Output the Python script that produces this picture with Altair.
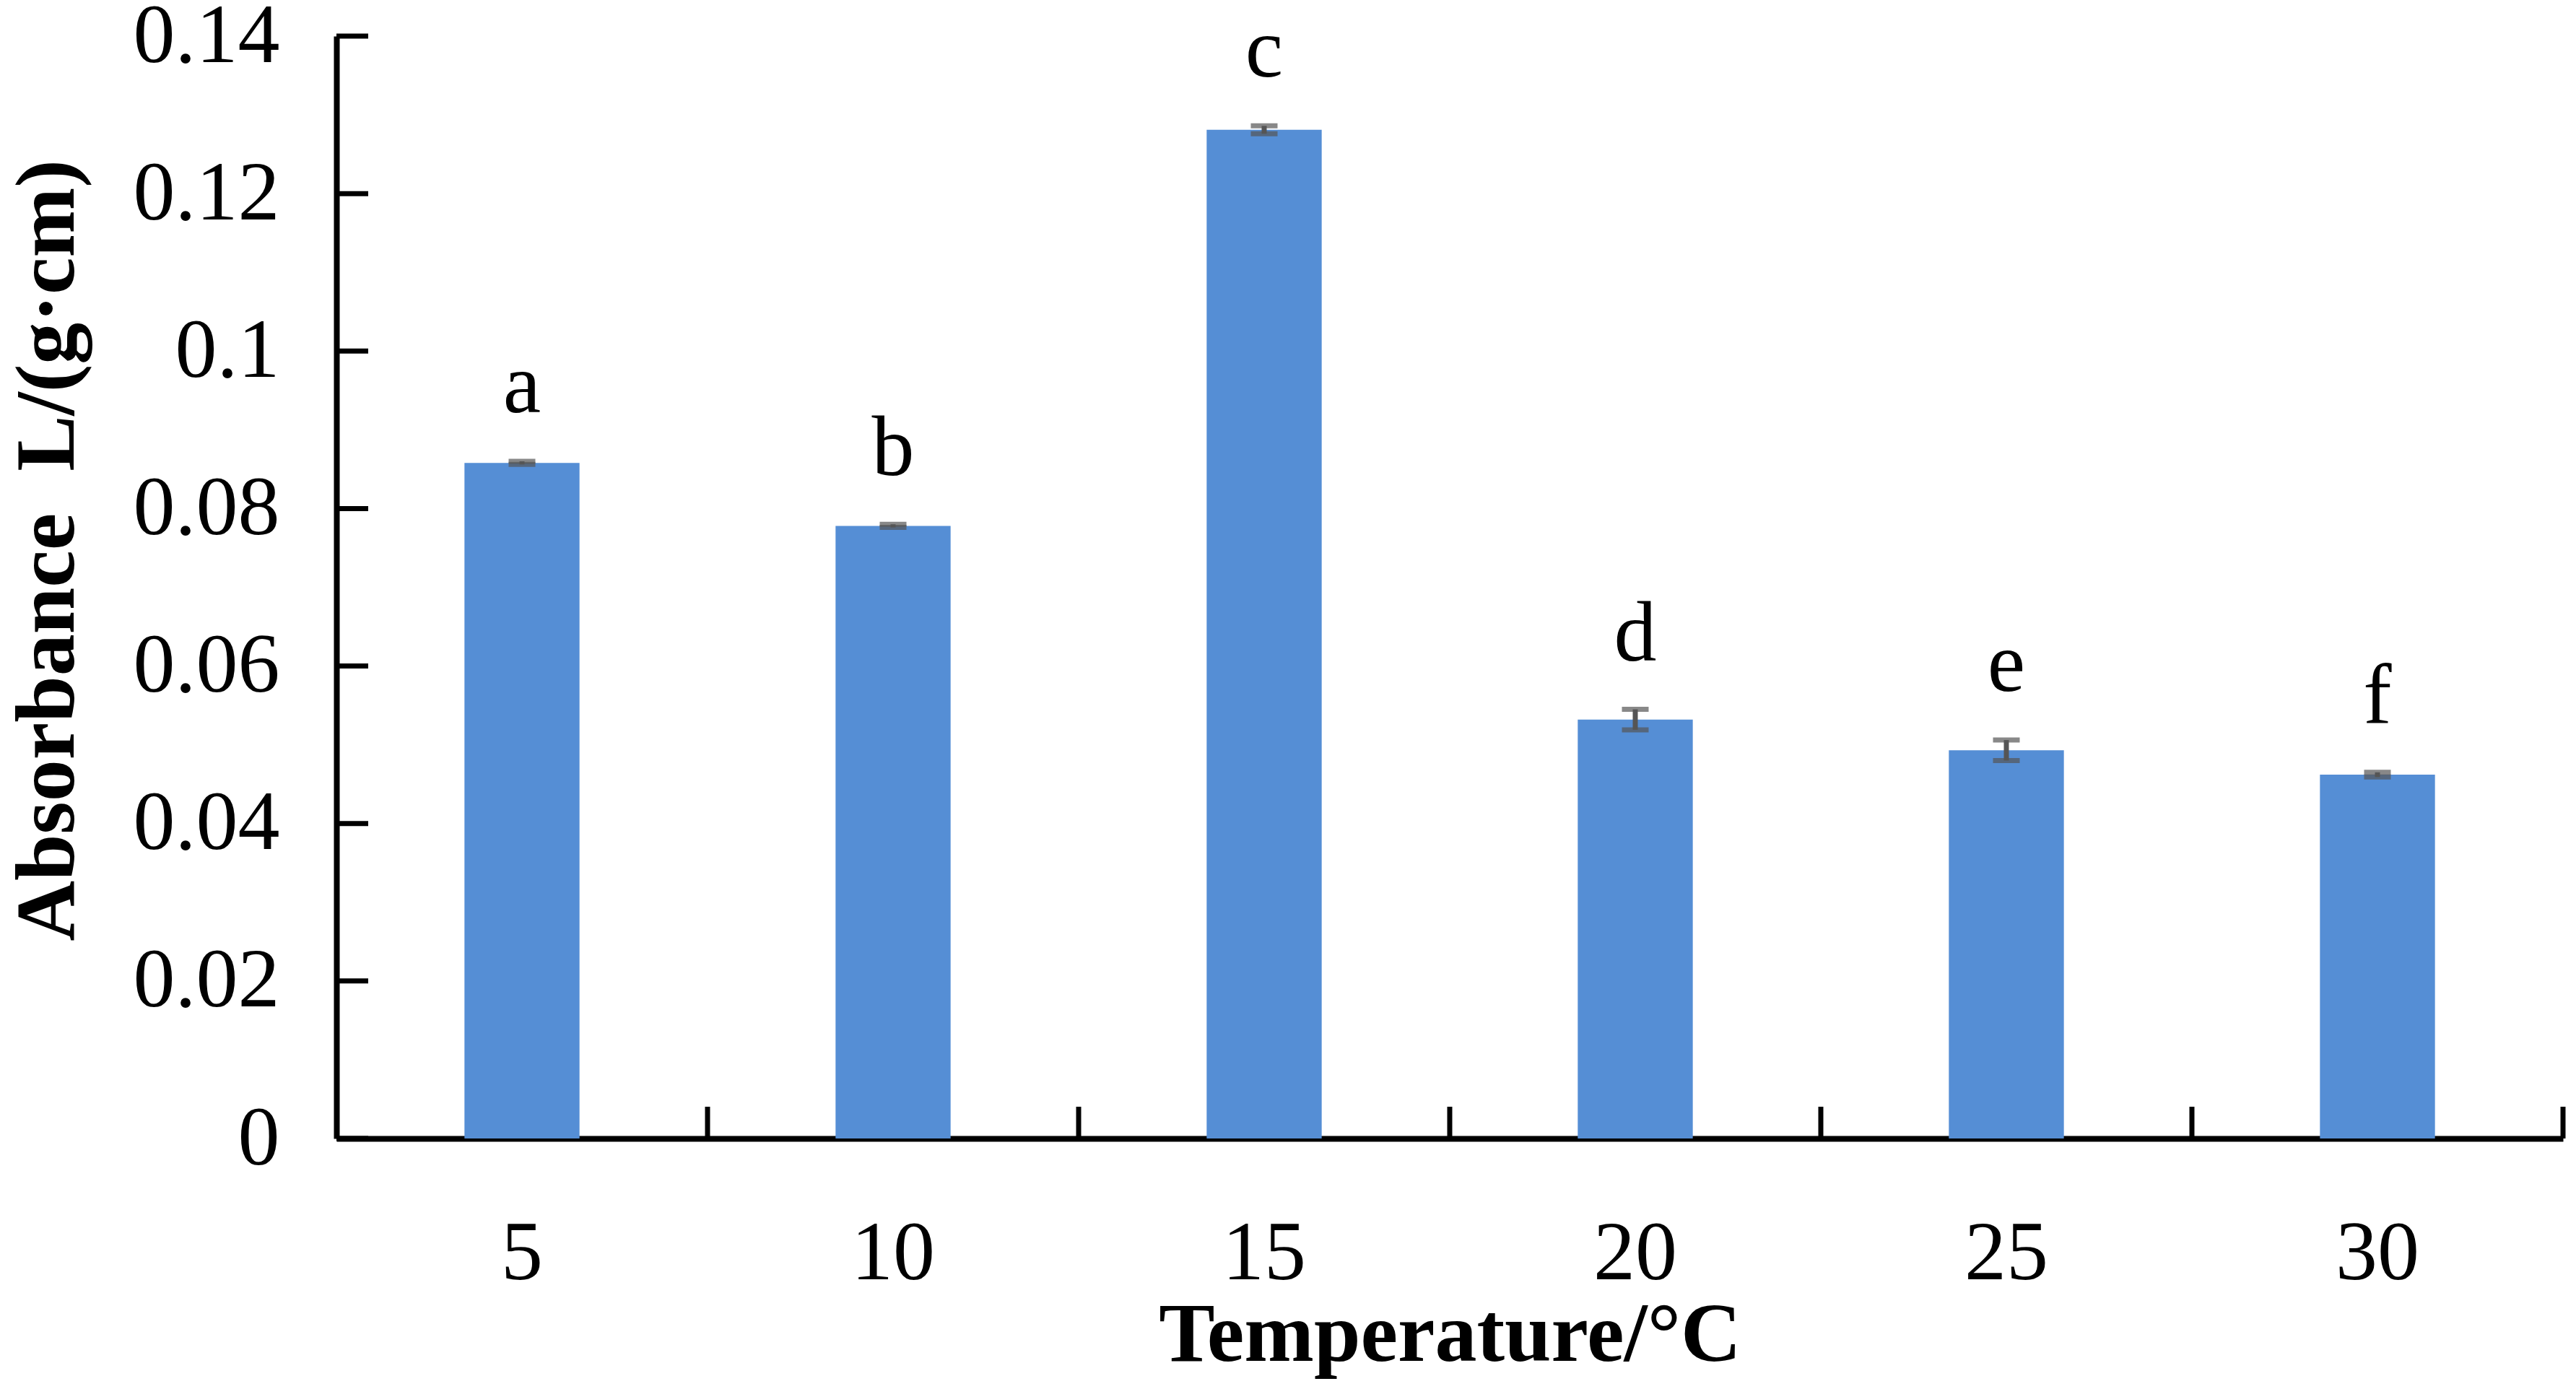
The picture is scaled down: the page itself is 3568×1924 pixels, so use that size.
import altair as alt
import pandas as pd

temps = ["5", "10", "15", "20", "25", "30"]
means = [0.0858, 0.0778, 0.1281, 0.0532, 0.0493, 0.0462]
errs = [0.0002, 0.0002, 0.0005, 0.0013, 0.0013, 0.0003]
letters = ["a", "b", "c", "d", "e", "f"]
y_ticks = [0, 0.02, 0.04, 0.06, 0.08, 0.1, 0.12, 0.14]

df = pd.DataFrame({"temp": temps, "mean": means, "err": errs, "letter": letters})
df["lo"] = df["mean"] - df["err"]
df["hi"] = df["mean"] + df["err"]
tick_df = pd.DataFrame({"tick": y_ticks})

W, H = 3084, 1527
FONT = "Liberation Serif"
TL = 44

xscale = alt.Scale(domain=temps, paddingInner=0, paddingOuter=0)
yscale = alt.Scale(domain=[0, 0.14], nice=False, zero=True)

xaxis = alt.Axis(title="Temperature/\u00b0C", labelAngle=0, ticks=False, tickSize=0, grid=False,
                 labelPadding=102, labelFontSize=116, labelFont=FONT, labelColor="black",
                 labelLimit=0, titleLimit=0,
                 titleFont=FONT, titleFontSize=116, titleFontWeight="bold", titleColor="black",
                 titleX=W / 2, titleY=307, titleAlign="center", titleBaseline="alphabetic",
                 domainColor="black", domainWidth=8)
yaxis = alt.Axis(title="Absorbance\u00a0 L/(g\u00b7cm)", values=y_ticks, format="~g", ticks=False,
                 tickSize=0, labelPadding=79, labelFontSize=116, labelFont=FONT,
                 labelColor="black", grid=False, labelLimit=0, titleLimit=0,
                 titleFont=FONT, titleFontSize=116, titleFontWeight="bold", titleColor="black",
                 titleX=-400, titleY=712, titleAlign="center", titleBaseline="middle",
                 titleAngle=270, domainColor="black", domainWidth=8)


def X(**kw):
    return alt.X("temp:N", sort=temps, scale=xscale, axis=xaxis, **kw)


def Y(field):
    return alt.Y(field, scale=yscale, axis=yaxis)


base = alt.Chart(df)

bars = base.mark_bar(color="#558ED5", width=alt.RelativeBandSize(0.31)).encode(
    x=X(), y=Y("mean:Q"),
)

err_rule = base.mark_rule(color="#555555", strokeWidth=7).encode(
    x=X(), y=Y("lo:Q"), y2="hi:Q",
)
cap_lo = base.mark_tick(color="#555555", thickness=7, size=37, orient="horizontal").encode(
    x=X(), y=Y("lo:Q"),
)
cap_hi = base.mark_tick(color="#555555", thickness=7, size=37, orient="horizontal").encode(
    x=X(), y=Y("hi:Q"),
)

labels = base.mark_text(font=FONT, fontSize=118, color="black", dy=-68, baseline="alphabetic").encode(
    x=X(), y=Y("hi:Q"), text="letter:N",
)

x_ticks = base.mark_rule(color="black", strokeWidth=7).encode(
    x=X(bandPosition=1),
    y=alt.value(H - TL),
    y2=alt.value(H),
)

y_tick_rules = alt.Chart(tick_df).mark_rule(color="black", strokeWidth=7).encode(
    y=Y("tick:Q"),
    x=alt.value(0),
    x2=alt.value(TL),
)

chart = alt.layer(bars, err_rule, cap_lo, cap_hi, labels, x_ticks, y_tick_rules).properties(
    width=W, height=H,
    padding={"left": 458, "top": 42, "right": 10, "bottom": 345},
    autosize=alt.AutoSizeParams(type="none"),
).configure(background="white").configure_view(strokeWidth=0, stroke="transparent")

chart.save("out.html", embed_options={"renderer": "svg", "actions": False})
